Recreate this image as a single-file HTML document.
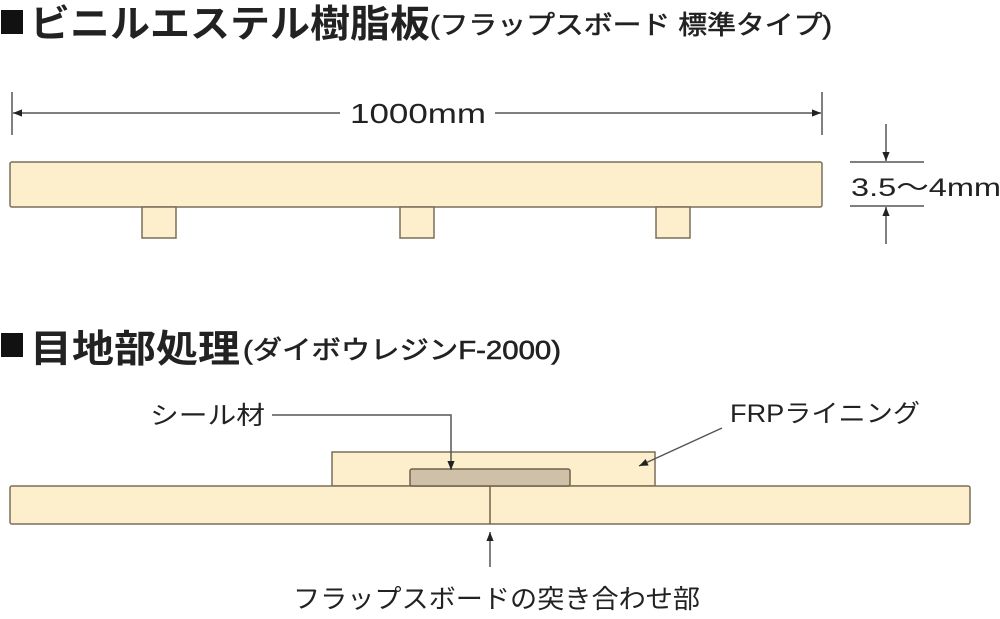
<!DOCTYPE html>
<html><head><meta charset="utf-8"><style>
html,body{margin:0;padding:0;background:#fff;}
svg{display:block;}
text{font-family:"Liberation Sans","Noto Sans CJK JP",sans-serif;fill:#222;}
</style></head><body>
<svg width="1000" height="619" viewBox="0 0 1000 619" xmlns="http://www.w3.org/2000/svg">
<defs>
<marker id="a" viewBox="0 0 10 10" refX="10" refY="5" markerWidth="9" markerHeight="9" orient="auto-start-reverse" markerUnits="userSpaceOnUse"><path d="M0,1 L10,5 L0,9 z" fill="#222"/></marker>
</defs>
<!-- Title 1 -->
<rect x="1" y="10" width="22" height="24" fill="#111"/>
<text x="30" y="37" font-size="38" font-weight="bold" textLength="400" lengthAdjust="spacingAndGlyphs">ビニルエステル樹脂板</text>
<text x="430" y="34" font-size="26" textLength="402" lengthAdjust="spacingAndGlyphs" stroke="#222" stroke-width="0.6">(フラップスボード 標準タイプ)</text>
<!-- dimension 1000mm -->
<g stroke="#555" stroke-width="1.5">
<line x1="12" y1="92" x2="12" y2="135"/>
<line x1="822" y1="92" x2="822" y2="135"/>
<line x1="13" y1="113" x2="340" y2="113" marker-start="url(#a)"/>
<line x1="495" y1="113" x2="821" y2="113" marker-end="url(#a)"/>
</g>
<text x="350" y="123" font-size="28" textLength="136" lengthAdjust="spacingAndGlyphs">1000mm</text>
<!-- board 1 -->
<g fill="#fdefcc" stroke="#7a6e5a" stroke-width="1.5">
<rect x="10" y="162" width="812" height="45" rx="2"/>
<rect x="142" y="207" width="34" height="31"/>
<rect x="400" y="207" width="34" height="31"/>
<rect x="656" y="207" width="34" height="31"/>
</g>
<!-- thickness dim -->
<g stroke="#555" stroke-width="1.5">
<line x1="850" y1="162" x2="924" y2="162"/>
<line x1="850" y1="206" x2="924" y2="206"/>
<line x1="886" y1="124" x2="886" y2="161" marker-end="url(#a)"/>
<line x1="886" y1="244" x2="886" y2="207" marker-end="url(#a)"/>
</g>
<text x="851" y="196" font-size="25" textLength="150" lengthAdjust="spacingAndGlyphs">3.5～4mm</text>
<!-- Title 2 -->
<rect x="1" y="333" width="22" height="24" fill="#111"/>
<text x="30" y="362" font-size="38" font-weight="bold" textLength="210" lengthAdjust="spacingAndGlyphs">目地部処理</text>
<text x="243" y="359" font-size="26" textLength="318" lengthAdjust="spacingAndGlyphs" stroke="#222" stroke-width="0.6">(ダイボウレジンF-2000)</text>
<!-- labels -->
<text x="150" y="424" font-size="25" textLength="115" lengthAdjust="spacingAndGlyphs">シール材</text>
<text x="730" y="422" font-size="25" textLength="190" lengthAdjust="spacingAndGlyphs">FRPライニング</text>
<!-- board 2 -->
<g fill="#fdefcc" stroke="#7a6e5a" stroke-width="1.5">
<rect x="332" y="452" width="323" height="34"/>
<rect x="10" y="486" width="960" height="38" rx="2"/>
</g>
<rect x="410" y="469" width="160" height="17" rx="2" fill="#cfc0a8" stroke="#6e624f" stroke-width="1.5"/>
<line x1="490" y1="486" x2="490" y2="524" stroke="#6e624f" stroke-width="1.5"/>
<!-- leaders -->
<g stroke="#555" stroke-width="1.5" fill="none">
<polyline points="272,415 451,415 451,470" marker-end="url(#a)"/>
<line x1="722" y1="428" x2="639" y2="466" marker-end="url(#a)"/>
<line x1="490" y1="567" x2="490" y2="532" marker-end="url(#a)"/>
</g>
<text x="293" y="608" font-size="26" textLength="407" lengthAdjust="spacingAndGlyphs">フラップスボードの突き合わせ部</text>
</svg>
</body></html>
